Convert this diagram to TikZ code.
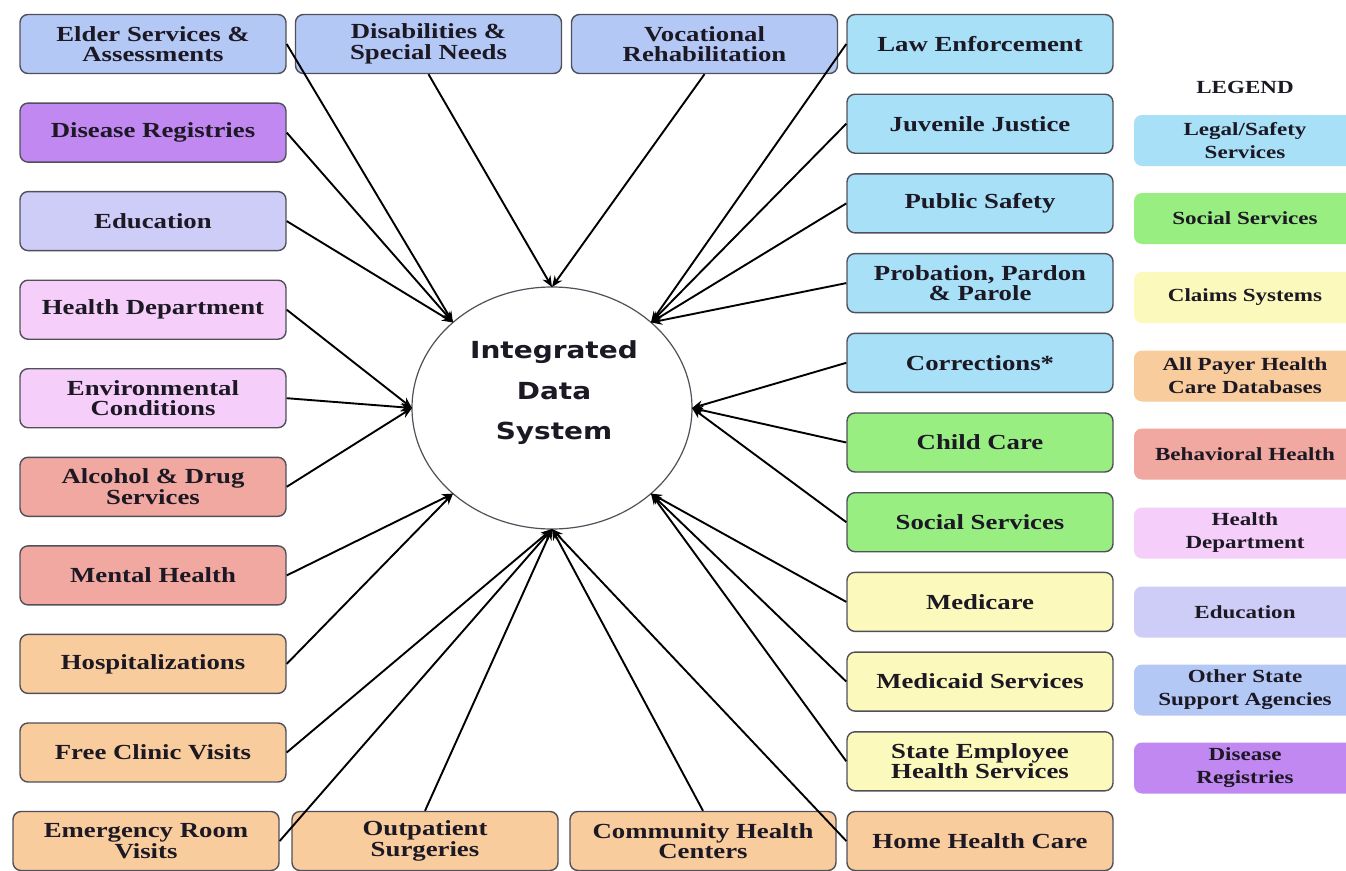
\documentclass[tikz,border=0pt]{standalone}
\usepackage{fontspec}
\usetikzlibrary{arrows.meta,shapes.geometric}
\newfontfamily\boxfont[FakeStretch=1.245]{Liberation Serif}
\newfontfamily\cfont[FakeStretch=1.19]{DejaVu Sans}
\definecolor{txt}{RGB}{28,24,36}
\definecolor{edge}{RGB}{80,80,90}
\definecolor{cOther}{RGB}{180,200,245}
\definecolor{cDisease}{RGB}{194,136,242}
\definecolor{cEdu}{RGB}{205,205,248}
\definecolor{cHealth}{RGB}{245,206,250}
\definecolor{cBehav}{RGB}{240,168,160}
\definecolor{cPayer}{RGB}{248,204,156}
\definecolor{cLegal}{RGB}{168,224,248}
\definecolor{cSocial}{RGB}{153,238,130}
\definecolor{cClaims}{RGB}{252,249,188}
\tikzset{
  box/.style={draw=edge, line width=1.4pt, rounded corners=8pt,
    minimum width=266pt, minimum height=59pt, inner sep=0pt, align=center,
    font=\boxfont\bfseries\fontsize{21.5}{20.5}\selectfont, text=txt},
  leg/.style={rounded corners=8pt, minimum width=222pt, minimum height=51pt,
    inner sep=0pt, align=center,
    font=\boxfont\bfseries\fontsize{18.5}{23}\selectfont, text=txt},
  conn/.style={draw=black, line width=1.9pt, -{Stealth[length=11pt,width=9pt]}},
}
\begin{document}
\begin{tikzpicture}[x=1pt,y=-1pt]
\fill[white] (0,0) rectangle (1346,870);
\useasboundingbox (0,0) rectangle (1346,870);

% central ellipse
\node[ellipse, draw=edge, line width=1.2pt, minimum width=280pt, minimum height=242pt,
  inner sep=0pt, outer sep=0pt, fill=white] (c) at (552,408) {};
\node[font=\cfont\bfseries\fontsize{23.5}{40.5}\selectfont, align=center, text=txt]
  (ctext) at (554,393) {Integrated\\Data\\System};

% top row
\node[box, fill=cOther] (elder) at (153,44) {Elder Services \&\\Assessments};
\node[box, fill=cOther] (disab) at (428.5,44) {Disabilities \&\\Special Needs};
\node[box, fill=cOther] (voc) at (704.5,44) {Vocational\\Rehabilitation};
\node[box, fill=cLegal] (law) at (980,44) {Law Enforcement};

% left column
\node[box, fill=cDisease] (disease) at (153,132.6) {Disease Registries};
\node[box, fill=cEdu] (edu) at (153,221.1) {Education};
\node[box, fill=cHealth] (hdept) at (153,309.7) {Health Department};
\node[box, fill=cHealth] (env) at (153,398.2) {Environmental\\Conditions};
\node[box, fill=cBehav] (alc) at (153,486.8) {Alcohol \& Drug\\Services};
\node[box, fill=cBehav] (mental) at (153,575.4) {Mental Health};
\node[box, fill=cPayer] (hosp) at (153,663.9) {Hospitalizations};
\node[box, fill=cPayer] (free) at (153,752.5) {Free Clinic Visits};

% bottom row
\node[box, fill=cPayer] (er) at (146,841) {Emergency Room\\Visits};
\node[box, fill=cPayer] (outp) at (425,841) {Outpatient\\Surgeries};
\node[box, fill=cPayer] (comm) at (703,841) {Community Health\\Centers};
\node[box, fill=cPayer] (home) at (980,841) {Home Health Care};

% right column
\node[box, fill=cLegal] (juv) at (980,123.7) {Juvenile Justice};
\node[box, fill=cLegal] (pub) at (980,203.4) {Public Safety};
\node[box, fill=cLegal] (prob) at (980,283.1) {Probation, Pardon\\\& Parole};
\node[box, fill=cLegal] (corr) at (980,362.8) {Corrections*};
\node[box, fill=cSocial] (child) at (980,442.5) {Child Care};
\node[box, fill=cSocial] (social) at (980,522.2) {Social Services};
\node[box, fill=cClaims] (medicare) at (980,601.9) {Medicare};
\node[box, fill=cClaims] (medicaid) at (980,681.6) {Medicaid Services};
\node[box, fill=cClaims] (state) at (980,761.3) {State Employee\\Health Services};

% connectors
\draw[conn] (elder.east) -- (c.north west);
\draw[conn] (disease.east) -- (c.north west);
\draw[conn] (edu.east) -- (c.north west);
\draw[conn] (disab.south) -- (c.north);
\draw[conn] (voc.south) -- (c.north);
\draw[conn] (law.west) -- (c.north east);
\draw[conn] (juv.west) -- (c.north east);
\draw[conn] (pub.west) -- (c.north east);
\draw[conn] (prob.west) -- (c.north east);
\draw[conn] (corr.west) -- (c.east);
\draw[conn] (child.west) -- (c.east);
\draw[conn] (social.west) -- (c.east);
\draw[conn] (medicare.west) -- (c.south east);
\draw[conn] (medicaid.west) -- (c.south east);
\draw[conn] (state.west) -- (c.south east);
\draw[conn] (home.west) -- (c.south);
\draw[conn] (comm.north) -- (c.south);
\draw[conn] (outp.north) -- (c.south);
\draw[conn] (er.east) -- (c.south);
\draw[conn] (free.east) -- (c.south);
\draw[conn] (hosp.east) -- (c.south west);
\draw[conn] (mental.east) -- (c.south west);
\draw[conn] (hdept.east) -- (c.west);
\draw[conn] (env.east) -- (c.west);
\draw[conn] (alc.east) -- (c.west);

% legend
\node[font=\boxfont\bfseries\fontsize{18.5}{23}\selectfont, text=txt] (legtitle) at (1245,87) {LEGEND};
\node[leg, fill=cLegal] (l1) at (1245,140.5) {Legal/Safety\\Services};
\node[leg, fill=cSocial] (l2) at (1245,218.5) {Social Services};
\node[leg, fill=cClaims] (l3) at (1245,297.5) {Claims Systems};
\node[leg, fill=cPayer] (l4) at (1245,376) {All Payer Health\\Care Databases};
\node[leg, fill=cBehav] (l5) at (1245,454) {Behavioral Health};
\node[leg, fill=cHealth] (l6) at (1245,533) {Health\\Department};
\node[leg, fill=cEdu] (l7) at (1245,612) {Education};
\node[leg, fill=cOther] (l8) at (1245,690) {Other State\\Support Agencies};
\node[leg, fill=cDisease] (l9) at (1245,768) {Disease\\Registries};
\end{tikzpicture}
\end{document}
